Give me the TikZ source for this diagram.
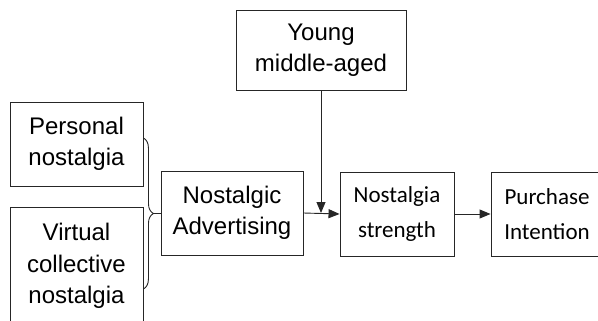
\documentclass[tikz,border=0pt]{standalone}
\usepackage{fontspec}
\setmainfont{Liberation Sans}
\newfontfamily\calib{Carlito}
\usetikzlibrary{arrows.meta,decorations.pathreplacing}

\tikzset{
  box/.style = {draw=black!85, line width=0.9pt, inner sep=0pt, align=center,
                font=\fontsize{24}{31.5}\selectfont},
  narrowbox/.style = {box, font=\calib\fontsize{23}{35}\selectfont},
  link/.style = {draw=black!85, line width=0.9pt},
  arrow/.style = {link, -{Triangle[length=11pt,width=9pt]}}
}

\begin{document}
\begin{tikzpicture}[x=1pt, y=-1pt]
    \useasboundingbox (0,0) rectangle (598,321);
    \clip (0,0) rectangle (598,321);

    \node[box, minimum width=133pt, minimum height=84pt] (pers) at (76.5,144) {Personal\\nostalgia};
    \node[box, minimum width=133pt, minimum height=118pt] (virt) at (76.5,266) {Virtual\\collective\\nostalgia};
    \node[box, minimum width=142pt, minimum height=84pt] (adv) at (232,213) {Nostalgic\\Advertising};
    \node[box, minimum width=170pt, minimum height=80pt] (young) at (321,50) {Young\\middle-aged};
    \node[narrowbox, minimum width=114pt, minimum height=84pt] (str) at (397,214) {Nostalgia\\strength};
    \node[narrowbox, minimum width=112pt, minimum height=84pt] (pur) at (547,214) {Purchase\\Intention};

    \coordinate (btop) at (pers.east |- 0,138);
    \coordinate (bbot) at (virt.east |- 0,289);
    \coordinate (btip) at (153,213);
    \draw[link, decorate, decoration={brace, amplitude=10pt}] (btop) -- (bbot);
    \draw[link] (btip) -- (adv.west);

    \coordinate (join) at (young.south |- adv.east);
    \draw[arrow] (adv.east) -- (str.west);
    \draw[arrow] (young.south) -- (join);
    \draw[arrow] (str.east) -- (pur.west);
\end{tikzpicture}
\end{document}
